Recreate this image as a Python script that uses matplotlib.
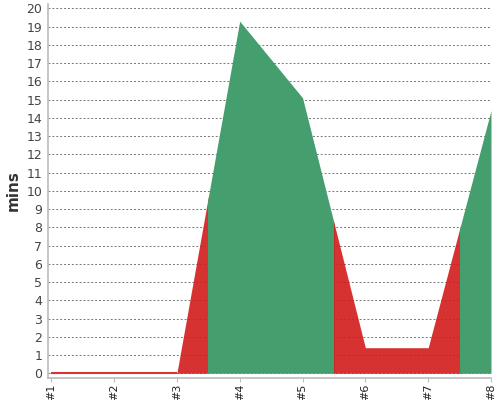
import matplotlib
matplotlib.use("Agg")
import matplotlib.pyplot as plt
from matplotlib.patches import Rectangle
import numpy as np

plt.rcParams['font.family'] = ['DejaVu Sans']

# data
labels = ['#1', '#2', '#3', '#4', '#5', '#6', '#7', '#8']
mins = [0, 0, 0, 19.3, 15.1, 1.4, 1.4, 14.4]
# colour bands (start, end, colour) in category positions
bands = [(1, 3.5, '#d21c1c'), (3.5, 5.5, '#449e6e'),
         (5.5, 7.5, '#d21c1c'), (7.5, 8, '#449e6e')]

x = np.arange(1, len(labels) + 1)

fig = plt.figure(figsize=(5, 4), dpi=100)
ax = fig.add_axes([0.0954, 0.055, 0.8866, 0.935])

for x0, x1, col in bands:
    alpha = 0.9 if col == '#d21c1c' else 1.0
    poly = ax.fill_between(x, mins, 0, color=col, alpha=alpha, lw=0, zorder=2)
    clip = Rectangle((x0, -5), x1 - x0, 40, transform=ax.transData)
    poly.set_clip_path(clip)

# thin line along zero for the flat start
ax.plot(x[:3], mins[:3], color='#d63333', lw=1.5, zorder=3, solid_capstyle='butt')

ax.set_xlim(0.944, 8.0)
ax.set_ylim(-0.26, 20.24)
ax.set_yticks(range(0, 21))
ax.set_xticks(x)
ax.set_xticklabels(labels, rotation=90, fontsize=8, color='#222222')
ax.tick_params(axis='y', length=0, labelsize=9, labelcolor='#444444', pad=4)
ax.tick_params(axis='x', length=3, color='#bbbbbb', pad=1)

ax.grid(axis='y', color='#777777', ls=(0, (2, 2)), lw=0.7, zorder=1)
ax.set_axisbelow(True)

for s in ['top', 'right']:
    ax.spines[s].set_visible(False)
for s in ['left', 'bottom']:
    ax.spines[s].set_color('#bbbbbb')
    ax.spines[s].set_linewidth(1.2)

ax.set_ylabel('mins', fontsize=11, color='#333333', labelpad=4,
              fontweight='semibold')

fig.savefig('out.png', dpi=100)
